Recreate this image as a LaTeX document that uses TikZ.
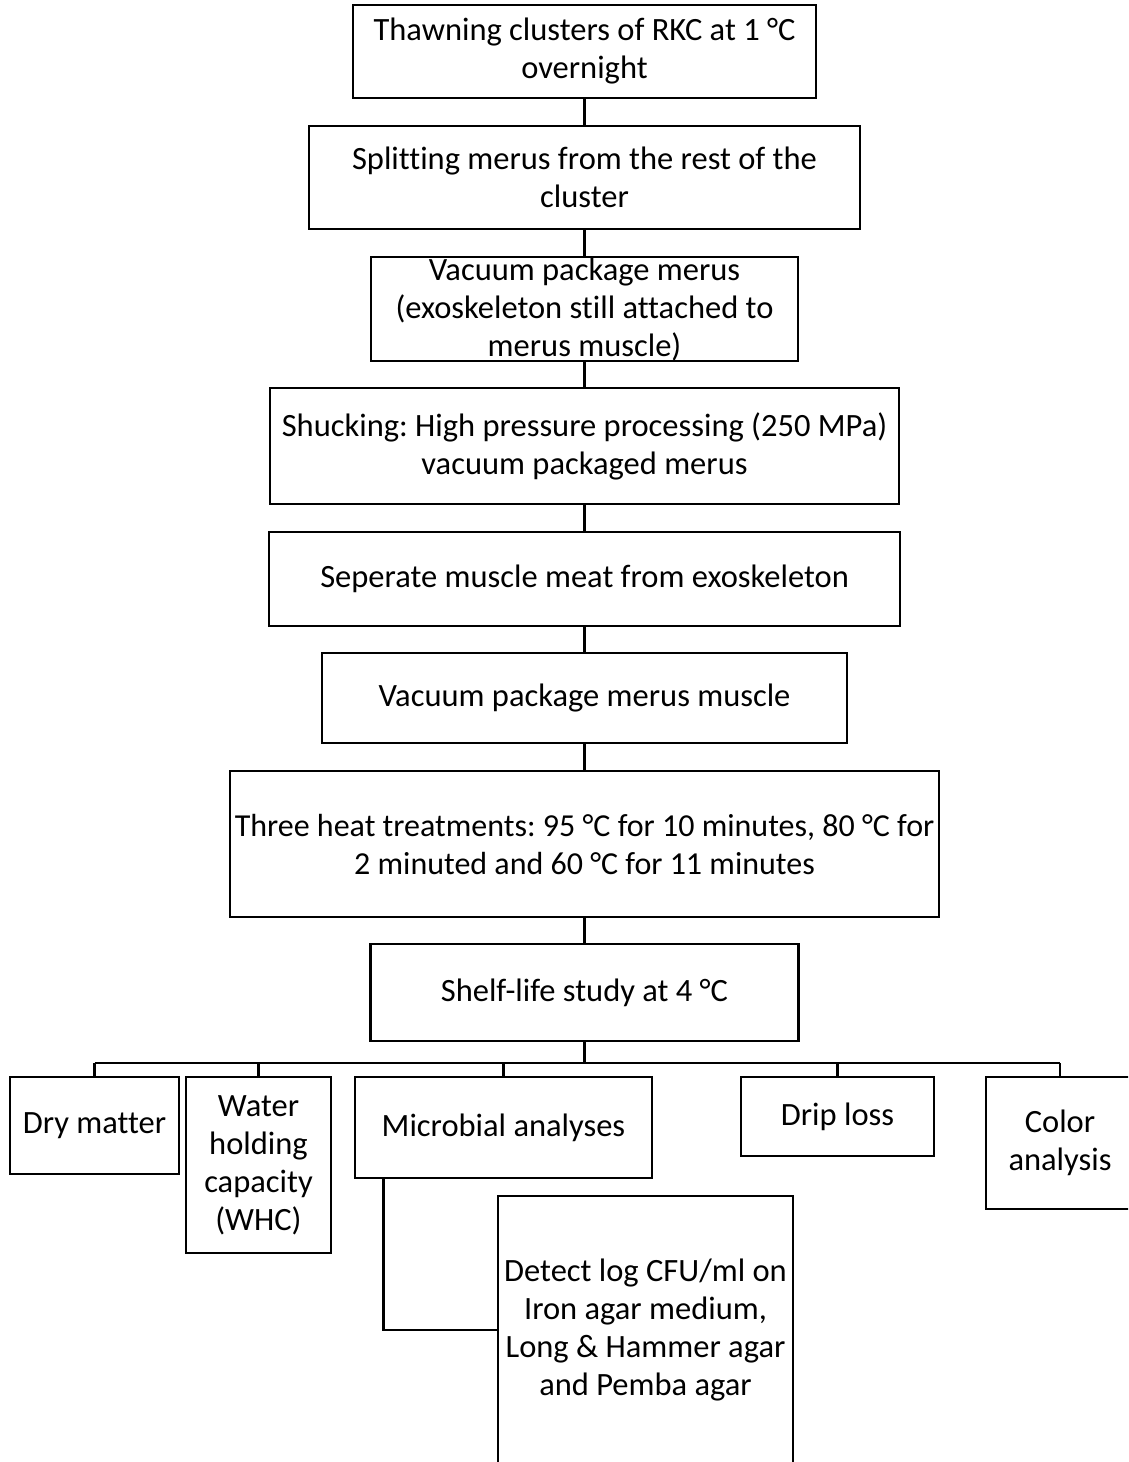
\documentclass[tikz,border=0pt]{standalone}
\usepackage{fontspec}
\setmainfont{Carlito}[Ligatures = NoCommon]
\usetikzlibrary{positioning}

\begin{document}
\frenchspacing
\begin{tikzpicture}[x = 1pt, y = -1pt, line width = 2.7pt,
		procbox/.style = {draw = black, align = center, inner sep = 0pt, font = \fontsize{32.5}{38}\selectfont}]
							\clip (0, 0) rectangle (1128, 1462);
							% main chain
							\node [procbox, minimum width = 463, minimum height = 93] (thaw) at (584.5, 51.5) {Thawning clusters of RKC at 1 °C\\overnight};
							\node [procbox, minimum width = 551, minimum height = 103] (split) at (584.5, 177.5) {Splitting merus from the rest of the\\cluster};
							\node [procbox, minimum width = 427, minimum height = 104] (vacmerus) at (584.5, 309) {Vacuum package merus\\(exoskeleton still attached to\\merus muscle)};
							\node [procbox, minimum width = 629, minimum height = 116] (shuck) at (584.5, 446) {Shucking: High pressure processing (250 MPa)\\vacuum packaged merus};
							\node [procbox, minimum width = 631, minimum height = 94] (separate) at (584.5, 579) {Seperate muscle meat from exoskeleton};
							\node [procbox, minimum width = 525, minimum height = 90] (vacmuscle) at (584.5, 698) {Vacuum package merus muscle};
							\node [procbox, minimum width = 709, minimum height = 146, font = \fontsize{32}{38}\selectfont] (heat) at (584.5, 844) {Three heat treatments: 95 °C for 10 minutes, 80 °C for\\2 minuted and 60 °C for 11 minutes};
							\node [procbox, minimum width = 428, minimum height = 97] (shelf) at (584.5, 992.5) {Shelf-life study at 4 °C};
							% analyses
							\node [procbox, minimum width = 169, minimum height = 97] (dry) at (94.5, 1125.5) {Dry matter};
							\node [procbox, minimum width = 145, minimum height = 176] (whc) at (258.5, 1165) {Water\\holding\\capacity\\(WHC)};
							\node [procbox, minimum width = 297, minimum height = 101] (micro) at (503.5, 1127.5) {Microbial analyses};
							\node [procbox, minimum width = 193, minimum height = 79] (drip) at (837.5, 1116.5) {Drip loss};
							\node [procbox, minimum width = 148, minimum height = 132] (color) at (1060, 1143) {Color\\analysis};
							\node [procbox, minimum width = 295, minimum height = 268] (detect) at (645.5, 1330) {Detect log CFU/ml on\\Iron agar medium,\\Long \& Hammer agar\\and Pemba agar};
							% connectors
							\draw (thaw) -- (split);
							\draw (split) -- (vacmerus);
							\draw (vacmerus) -- (shuck);
							\draw (shuck) -- (separate);
							\draw (separate) -- (vacmuscle);
							\draw (vacmuscle) -- (heat);
							\draw (heat) -- (shelf);
							\coordinate (bus) at (584.5, 1063);
							\draw (shelf) -- (bus);
							\draw (dry.north |- bus) -- (color.north |- bus);
							\foreach \a in {dry, whc, micro, drip, color}
								\draw (\a.north) -- (\a.north |- bus);
							\draw ([xshift = 30pt] micro.south west) |- (detect.west);
						\end{tikzpicture}
\end{document}
